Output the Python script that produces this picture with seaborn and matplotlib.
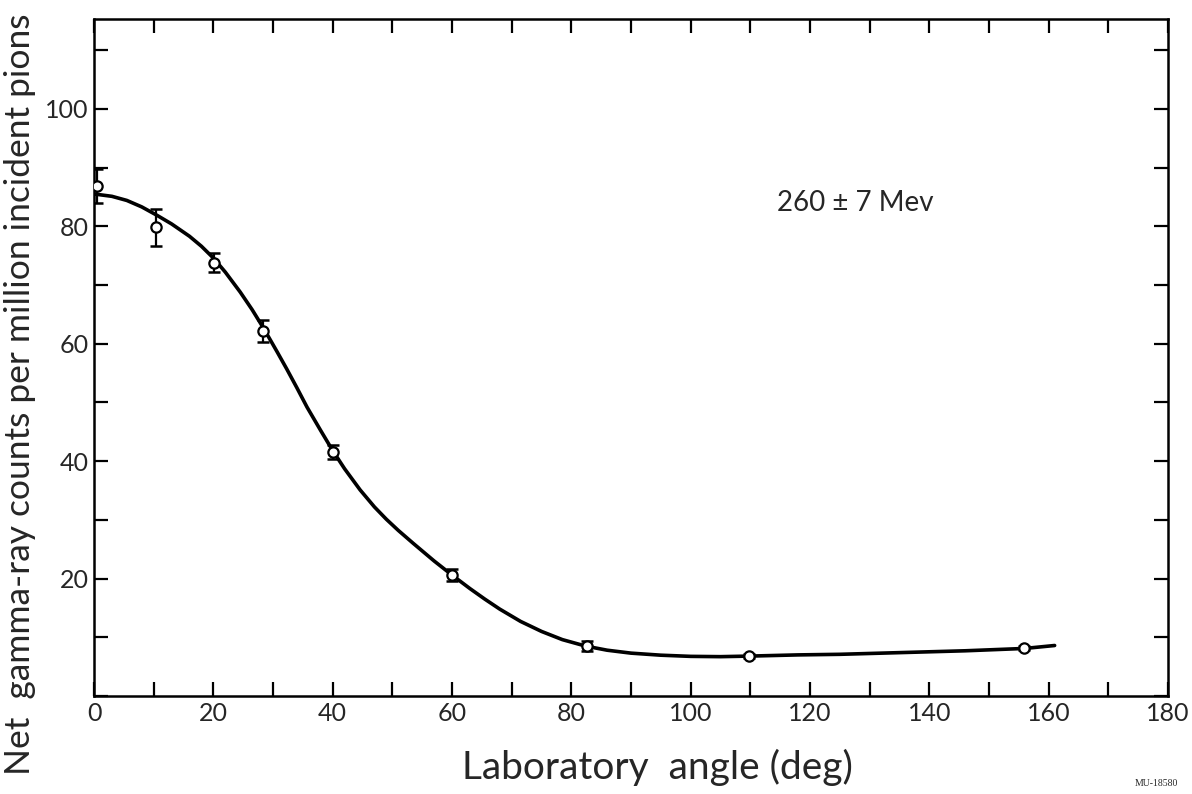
import numpy as np
import pandas as pd
import matplotlib
matplotlib.use("Agg")
import matplotlib.pyplot as plt
import seaborn as sns

# Measured points (laboratory angle, counts, error)
angle = [0.5, 10.4, 20.1, 28.4, 40.0, 60.0, 82.6, 109.7, 155.9]
counts = [86.9, 79.8, 73.8, 62.2, 41.6, 20.6, 8.5, 6.8, 8.2]
errors = [2.9, 3.2, 1.6, 1.9, 1.2, 1.0, 0.8, 0.4, 0.4]

# Smooth fitted curve
curve_x = [0, 3, 5.5, 8, 10.5, 13, 16, 18, 20, 22, 24.5, 26.5, 28.5, 30.7, 32.3,
           34, 35.7, 38, 40, 42, 44.6, 47, 49, 51, 53.5, 57, 60, 63, 65.5, 68,
           71.5, 75, 78.5, 82.4, 86, 90, 95, 100, 105, 110, 118, 125, 132, 139,
           146, 151, 156, 161]
curve_y = [85.5, 85.1, 84.4, 83.3, 81.9, 80.4, 78.3, 76.6, 74.6, 72.2, 68.8,
           65.8, 62.5, 58.6, 55.7, 52.5, 49.2, 45.2, 41.8, 38.7, 35.1, 32.2,
           30.1, 28.2, 26.0, 23.0, 20.6, 18.3, 16.5, 14.8, 12.7, 11.0, 9.6,
           8.5, 7.8, 7.3, 6.95, 6.75, 6.7, 6.8, 7.0, 7.1, 7.3, 7.5, 7.7, 7.9,
           8.1, 8.6]

x_ticks = [0, 20, 40, 60, 80, 100, 120, 140, 160, 180]
y_ticks = [20, 40, 60, 80, 100]

sns.set_style("ticks")
plt.rcParams['font.family'] = ['Lato', 'DejaVu Sans']

fig = plt.figure(figsize=(11.92, 7.94), dpi=100)
ax = fig.add_axes([94 / 1192, 1 - 696 / 794, (1168 - 94) / 1192, (696 - 19) / 794])

curve_df = pd.DataFrame({"x": curve_x, "y": curve_y})
pts_df = pd.DataFrame({"angle": angle, "counts": counts})

sns.lineplot(data=curve_df, x="x", y="y", sort=False, estimator=None,
             color="black", linewidth=2.6, ax=ax)
ax.errorbar(angle, counts, yerr=errors, fmt="none", ecolor="black",
            elinewidth=1.6, capsize=4.5, capthick=1.8, zorder=3)
sns.scatterplot(data=pts_df, x="angle", y="counts", marker="o", s=55,
                facecolor="white", edgecolor="black", linewidth=1.6,
                zorder=4, ax=ax)

ax.set_xlim(0, 180)
ax.set_ylim(0, 115.3)
ax.set_xticks(x_ticks)
ax.set_xticks(np.arange(0, 181, 10), minor=True)
ax.set_yticks(y_ticks)
ax.set_yticks(np.arange(0, 116, 10), minor=True)
ax.set_xticklabels([str(v) for v in x_ticks], fontsize=18)
ax.set_yticklabels([str(v) for v in y_ticks], fontsize=18)
ax.tick_params(which="both", direction="in", top=True, right=True,
               width=1.6, color="black")
ax.tick_params(which="major", length=10, pad=4)
ax.tick_params(which="minor", length=10)
for s in ax.spines.values():
    s.set_linewidth(1.8)
    s.set_color("black")

ax.set_xlabel("Laboratory  angle (deg)", fontsize=28)
ax.xaxis.label.set_va("center")
ax.xaxis.set_label_coords(0.525, -0.105)
ax.set_ylabel("Net  gamma-ray counts per million incident pions", fontsize=25.5)
ax.yaxis.label.set_va("center")
ax.yaxis.set_label_coords(-0.069, 0.445)

ax.text(114.5, 84, "260 ± 7 Mev", fontsize=20, va="center", ha="left")

fig.text(1178 / 1192, 1 - 784 / 794, "MU-18580", fontsize=7,
         family="Liberation Serif", ha="right", va="center")

fig.savefig("out.png", dpi=100, facecolor="white")
